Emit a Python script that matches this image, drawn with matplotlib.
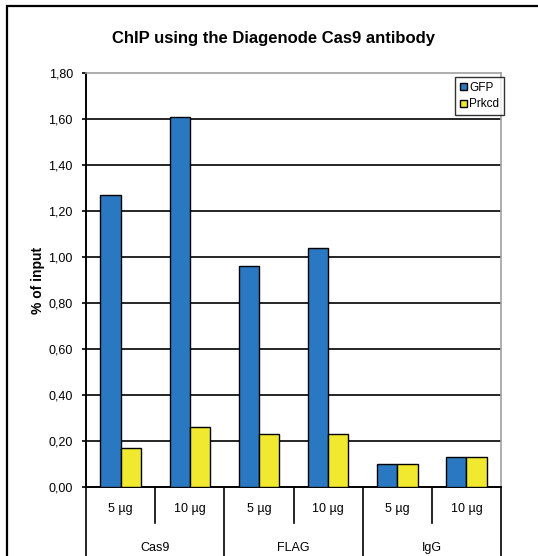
import matplotlib.pyplot as plt
from matplotlib.patches import Patch, Rectangle
import numpy as np

plt.rcParams['font.family'] = ['Liberation Sans', 'DejaVu Sans']

groups = ['Cas9', 'FLAG', 'IgG']
doses = ['5 µg', '10 µg', '5 µg', '10 µg', '5 µg', '10 µg']
gfp = [1.27, 1.61, 0.96, 1.04, 0.10, 0.13]
prkcd = [0.17, 0.26, 0.23, 0.23, 0.10, 0.13]
yticks = [0.0, 0.2, 0.4, 0.6, 0.8, 1.0, 1.2, 1.4, 1.6, 1.8]

blue = '#2a78c2'
yellow = '#f0e930'

fig = plt.figure(figsize=(5.38, 5.56), dpi=100)
ax = fig.add_axes([0.1599, 0.1241, 0.7713, 0.7441])

x = np.arange(len(doses))
w = 0.293
ax.bar(x - w / 2, gfp, w, color=blue, edgecolor='black', linewidth=1, zorder=3)
ax.bar(x + w / 2, prkcd, w, color=yellow, edgecolor='black', linewidth=1, zorder=3)

ax.set_xlim(-0.5, 5.5)
ax.set_ylim(0, 1.8)
ax.set_yticks(yticks)
ax.set_yticklabels([f'{v:.2f}'.replace('.', ',') for v in yticks], fontsize=9)
ax.tick_params(axis='y', length=3, width=1.2, pad=6.5, direction='out')
ax.set_xticks([])

# horizontal grid lines
for v in yticks[1:-1]:
    ax.axhline(v, color='black', linewidth=1.2, zorder=1)

ax.spines['left'].set_linewidth(1.4)
ax.spines['bottom'].set_linewidth(1.4)
ax.spines['top'].set_color('#a0a0a0')
ax.spines['right'].set_color('#a0a0a0')
ax.spines['top'].set_linewidth(1.2)
ax.spines['right'].set_linewidth(1.2)

ax.set_ylabel('% of input', fontsize=10, fontweight='bold')
ax.yaxis.set_label_coords(-0.0988, 0.5)
fig.text(274 / 538, 1 - 38 / 556, 'ChIP using the Diagenode Cas9 antibody',
         fontsize=12, fontweight='bold', ha='center', va='center')

# two-level category axis below the plot
trans = ax.get_xaxis_transform()
for i in range(len(doses)):
    ax.text(i, -0.053, doses[i], transform=trans, ha='center', va='center', fontsize=9)
for sep in [0.5, 2.5, 4.5]:
    ax.plot([sep, sep], [0, -0.087], transform=trans, color='black',
            linewidth=1.2, clip_on=False)
for sep in [-0.5, 1.5, 3.5, 5.5]:
    ax.plot([sep, sep], [0, -0.25], transform=trans, color='black',
            linewidth=1.2, clip_on=False)
for j, g in enumerate(groups):
    ax.text(2 * j + 0.5, -0.147, g, transform=trans, ha='center', va='center', fontsize=9)

handles = [Patch(facecolor=blue, edgecolor='black', label='GFP'),
           Patch(facecolor=yellow, edgecolor='black', label='Prkcd')]
leg = fig.legend(handles=handles, loc='upper right', bbox_to_anchor=(0.9368, 0.8615),
                 bbox_transform=fig.transFigure, fontsize=8.5, frameon=True,
                 fancybox=False, handlelength=0.6, handleheight=0.6,
                 handletextpad=0.2, borderpad=0.4, labelspacing=0.4, borderaxespad=0)
leg.get_frame().set_edgecolor('black')
leg.get_frame().set_linewidth(1)

# outer chart border (cropped on the right and bottom)
fig.patches.append(Rectangle((7 / 538, -0.1), 1.2, 1 - 6 / 556 + 0.1,
                             transform=fig.transFigure, fill=False,
                             edgecolor='black', linewidth=1.6))

fig.savefig('out.png', dpi=100)
